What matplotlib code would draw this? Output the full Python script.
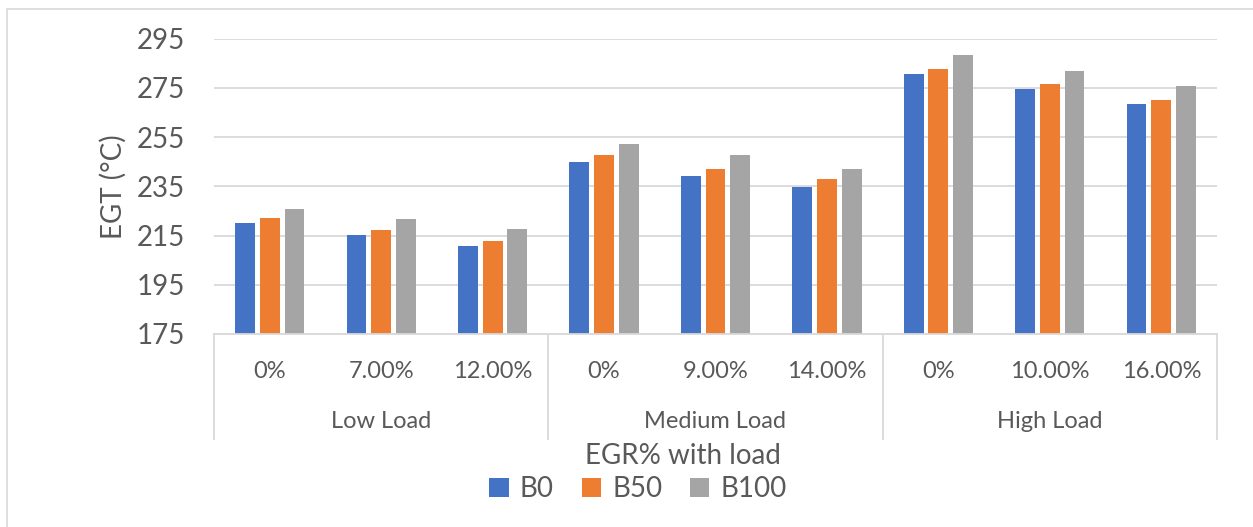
import matplotlib
matplotlib.use("Agg")
import matplotlib.pyplot as plt
import matplotlib.transforms as mtransforms
from matplotlib.patches import Rectangle, Patch
from matplotlib.lines import Line2D
import numpy as np

# Data
egr_labels = ["0%", "7.00%", "12.00%", "0%", "9.00%", "14.00%", "0%", "10.00%", "16.00%"]
load_groups = ["Low Load", "Medium Load", "High Load"]
series_names = ["B0", "B50", "B100"]
b0 = [220.0, 215.4, 210.7, 244.9, 239.3, 234.6, 280.5, 274.3, 268.4]
b50 = [222.0, 217.3, 212.6, 247.5, 242.0, 237.8, 282.7, 276.6, 270.1]
b100 = [225.8, 221.6, 217.6, 252.0, 247.7, 242.2, 288.1, 282.0, 275.8]
y_ticks = [175, 195, 215, 235, 255, 275, 295]

colors = ["#4472C4", "#ED7D31", "#A5A5A5"]
text_color = "#595959"
grid_color = "#D9D9D9"
font = "Lato"

W, H = 1253, 527
fig = plt.figure(figsize=(W / 100, H / 100), dpi=100)

# Outer chart frame (only top and left edges fall inside the canvas)
fig.patches.append(Rectangle((7 / W, -0.5), 1.5, 1.5 - 9 / H, transform=fig.transFigure,
                             fill=False, edgecolor=grid_color, linewidth=1.2))

left, right = 214 / W, 1217 / W
bottom, top = 1 - 334 / H, 1 - 38.5 / H
ax = fig.add_axes([left, bottom, right - left, top - bottom])

x = np.arange(len(egr_labels))
step = 0.222
width = 0.178
for i, (vals, c, name) in enumerate(zip([b0, b50, b100], colors, series_names)):
    ax.bar(x + (i - 1) * step, vals, width=width, color=c, label=name, zorder=3)

ax.set_xlim(-0.5, len(egr_labels) - 0.5)
ax.set_ylim(y_ticks[0], y_ticks[-1])
ax.set_yticks(y_ticks)
ax.set_yticklabels([str(t) for t in y_ticks], fontsize=20, color=text_color, family=font)
ax.tick_params(axis="y", length=0, pad=21)
ax.set_xticks([])
ax.grid(axis="y", color=grid_color, linewidth=1.3, zorder=0)
for s in ["top", "right", "left"]:
    ax.spines[s].set_visible(False)
ax.spines["bottom"].set_color(grid_color)
ax.spines["bottom"].set_linewidth(1.3)
ax.spines["bottom"].set_zorder(4)

ax.set_ylabel("EGT (°C)", fontsize=20, color=text_color, family=font)
ax.yaxis.set_label_coords((127 - 214) / (1217 - 214), 0.5)

# Multi-level category axis
trans = mtransforms.blended_transform_factory(ax.transData, fig.transFigure)
for xi, lab in zip(x, egr_labels):
    ax.text(xi, 1 - 371 / H, lab, transform=trans, ha="center", va="center",
            fontsize=17, color=text_color, family=font)
n_per = len(egr_labels) // len(load_groups)
for g, name in enumerate(load_groups):
    cx = g * n_per + (n_per - 1) / 2
    ax.text(cx, 1 - 422 / H, name, transform=trans, ha="center", va="center",
            fontsize=17, color=text_color, family=font)
for g in range(len(load_groups) + 1):
    xd = g * n_per - 0.5
    ax.add_line(Line2D([xd, xd], [1 - 334 / H, 1 - 439 / H], transform=trans,
                       color=grid_color, linewidth=1.3, clip_on=False))

fig.text(683 / W, 1 - 456 / H, "EGR% with load", ha="center", va="center",
         fontsize=20, color=text_color, family=font)

handles = [Patch(facecolor=c, edgecolor="none") for c in colors]
fig.legend(handles, series_names, loc="center", bbox_to_anchor=(638 / W, 1 - 489 / H),
           ncol=3, frameon=False, handlelength=0.7, handleheight=0.7,
           handletextpad=0.4, columnspacing=1.0,
           prop={"family": font, "size": 20}, labelcolor=text_color)

fig.savefig("out.png", dpi=100, facecolor="white")
